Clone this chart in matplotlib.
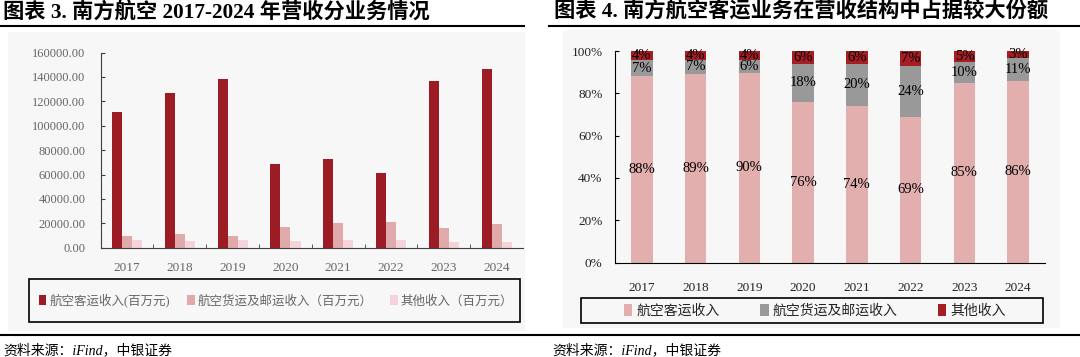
import numpy as np
import matplotlib
matplotlib.use('Agg')
import matplotlib.pyplot as plt
from matplotlib.patches import Rectangle
from matplotlib.lines import Line2D

# data
years = ['2017', '2018', '2019', '2020', '2021', '2022', '2023', '2024']

# left chart, millions of yuan
passenger = [111200, 126900, 138400, 68300, 72800, 61400, 136300, 146700]
cargo = [9800, 10900, 9800, 17100, 20500, 21300, 16000, 19600]
other = [6300, 5700, 6300, 5600, 6300, 6300, 5000, 5000]

# right chart, share of revenue in %
pct_passenger = [88.2, 89.2, 89.6, 76.1, 74.2, 68.9, 84.9, 85.9]
pct_cargo = [7.4, 6.7, 6.3, 17.9, 19.7, 24.1, 9.7, 10.8]
pct_other = [4.4, 4.1, 4.1, 6.0, 6.1, 7.0, 5.4, 3.3]

left_names = ['航空客运收入(百万元)', '航空货运及邮运收入（百万元）', '其他收入（百万元）']
right_names = ['航空客运收入', '航空货运及邮运收入', '其他收入']

SERIF = ['Liberation Serif', 'Noto Sans CJK SC']
W, H = 1080, 357


def fx(x):
    return x / W


def fy(y):
    return 1 - y / H


def rect(x0, y0, x1, y1):
    return [fx(x0), fy(y1), fx(x1) - fx(x0), fy(y0) - fy(y1)]


fig = plt.figure(figsize=(10.8, 3.57), dpi=100)
fig.patch.set_facecolor('white')

# light panel backgrounds
fig.patches.append(Rectangle((fx(8), fy(331)), fx(525) - fx(8), fy(32) - fy(331),
                             transform=fig.transFigure, facecolor='#f7f7f7', edgecolor='none', zorder=-5))
fig.patches.append(Rectangle((fx(563), fy(328)), fx(1060) - fx(563), fy(30) - fy(328),
                             transform=fig.transFigure, facecolor='#f7f7f7', edgecolor='none', zorder=-5))

# titles and rules
fig.text(fx(3), fy(12.5), '图表 3. 南方航空 2017-2024 年营收分业务情况', family=SERIF,
         fontsize=15.3, fontweight='bold', va='center', ha='left')
fig.text(fx(554), fy(12.5), '图表 4. 南方航空客运业务在营收结构中占据较大份额', family=SERIF,
         fontsize=15.3, fontweight='bold', va='center', ha='left')
fig.lines.append(Line2D([0, fx(524)], [fy(25.7)] * 2, transform=fig.transFigure, color='black', lw=1.5))
fig.lines.append(Line2D([fx(549), 1], [fy(25.7)] * 2, transform=fig.transFigure, color='black', lw=1.5))
fig.lines.append(Line2D([0, 1], [fy(335)] * 2, transform=fig.transFigure, color='black', lw=1.5))
fig.text(fx(3), fy(350), '资料来源：iFind，中银证券', family=SERIF, fontsize=10,
         style='italic', va='center', ha='left')
fig.text(fx(552), fy(350), '资料来源：iFind，中银证券', family=SERIF, fontsize=10,
         style='italic', va='center', ha='left')

# ---- left chart: grouped bars
x = np.arange(len(years))
bw = 0.19
c_left = ['#9b1c24', '#e0aaaa', '#f5d3da']
ax1 = fig.add_axes(rect(100.7, 52.5, 523, 247.7))
ax1.set_zorder(3)
ax1.set_facecolor('none')
b1 = ax1.bar(x - bw, passenger, bw, color=c_left[0])
b2 = ax1.bar(x, cargo, bw, color=c_left[1])
b3 = ax1.bar(x + bw, other, bw, color=c_left[2])
ax1.set_xlim(-0.5, len(years) - 0.5)
ax1.set_ylim(0, 160000)
ax1.set_yticks(np.arange(0, 160001, 20000))
ax1.set_yticklabels(['%.2f' % v for v in np.arange(0, 160001, 20000)])
ax1.set_xticks(x)
ax1.set_xticklabels(years)
ax1.set_xticks(np.arange(0.5, len(years) - 0.5), minor=True)
for s in ['top', 'right']:
    ax1.spines[s].set_visible(False)
for s in ['left', 'bottom']:
    ax1.spines[s].set_color('#404040')
ax1.tick_params(axis='y', direction='in', length=3, pad=11, labelsize=9, labelcolor='#666666', color='#404040')
ax1.tick_params(axis='x', which='major', length=0, pad=10, labelsize=9.5, labelcolor='#666666')
ax1.tick_params(axis='x', which='minor', direction='in', length=3, color='#404040')
for lb in ax1.get_xticklabels() + ax1.get_yticklabels():
    lb.set_family(SERIF)

fig.patches.append(Rectangle((fx(29.3), fy(321.7)), fx(520) - fx(29.3), fy(279.3) - fy(321.7),
                             transform=fig.transFigure, facecolor='none', edgecolor='black', lw=1.2))
fig.legend([b1, b2, b3], left_names, loc='center', bbox_to_anchor=(fx(276), fy(300.5)),
           ncol=3, frameon=False, prop={'family': SERIF, 'size': 9},
           handlelength=0.6, handleheight=0.9, handletextpad=0.25, columnspacing=1.4,
           labelcolor='#666666')

# ---- right chart: stacked percent bars
c_right = ['#e2aeae', '#999999', '#a51e24']
ax2 = fig.add_axes(rect(615, 51, 1045, 262.5))
ax2.set_zorder(3)
ax2.set_facecolor('none')
bot = np.zeros(len(years))
handles = []
for vals, col in zip([pct_passenger, pct_cargo, pct_other], c_right):
    vals = np.array(vals)
    h = ax2.bar(x, vals, 0.40, bottom=bot, color=col)
    handles.append(h)
    for i, v in enumerate(vals):
        ax2.text(x[i], bot[i] + v / 2, '%.0f%%' % v, ha='center', va='center',
                 family=SERIF, fontsize=10.5, color='black')
    bot = bot + vals
ax2.set_xlim(-0.5, len(years) - 0.5)
ax2.set_ylim(0, 100)
ax2.set_yticks(np.arange(0, 101, 20))
ax2.set_yticklabels(['%d%%' % v for v in np.arange(0, 101, 20)])
ax2.set_xticks(x)
ax2.set_xticklabels(years)
for s in ['top', 'right']:
    ax2.spines[s].set_visible(False)
ax2.tick_params(axis='y', direction='in', length=3, pad=9, labelsize=9.5, labelcolor='#222222')
ax2.tick_params(axis='x', length=0, pad=14, labelsize=9.5, labelcolor='#222222')
for lb in ax2.get_xticklabels() + ax2.get_yticklabels():
    lb.set_family(SERIF)

fig.patches.append(Rectangle((fx(580.6), fy(323.3)), fx(1042.7) - fx(580.6), fy(298.3) - fy(323.3),
                             transform=fig.transFigure, facecolor='none', edgecolor='black', lw=1.2))
fig.legend(handles, right_names, loc='center', bbox_to_anchor=(fx(815), fy(311)),
           ncol=3, frameon=False, prop={'family': SERIF, 'size': 10},
           handlelength=0.6, handleheight=0.9, handletextpad=0.3, columnspacing=2.9,
           labelcolor='#222222')

fig.savefig('out.png', dpi=100)
